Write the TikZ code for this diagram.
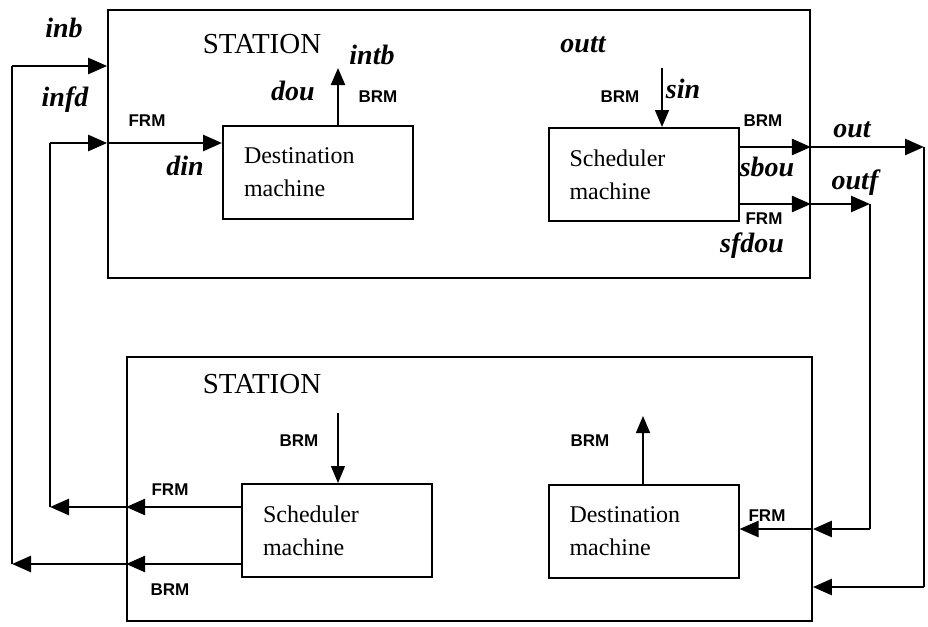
\documentclass[tikz,border=0pt]{standalone}
\usepackage{fontspec}
\setmainfont{Liberation Serif}
\setsansfont{Liberation Sans}
\usepackage{tikz}
\usetikzlibrary{arrows.meta}

\begin{document}
\begin{tikzpicture}[x=1pt, y=-1pt,
  st/.style={rectangle, draw, line width=1.8pt, inner sep=0pt},
  m/.style={rectangle, draw, line width=2pt, minimum width=190pt,
            minimum height=93pt, text width=148pt, inner xsep=21pt,
            align=left, font=\fontsize{24}{33}\selectfont},
  lb/.style={inner sep=0pt, font=\fontsize{28}{30}\selectfont\bfseries\itshape},
  sm/.style={inner sep=0pt, font=\fontsize{17}{19}\selectfont\sffamily\bfseries},
  ttl/.style={inner sep=0pt, font=\fontsize{29}{32}\selectfont},
  a/.style={-{Triangle[length=19pt, width=16pt]}, line width=2.6pt},
  ta/.style={-{Triangle[length=17pt, width=14pt]}, line width=1.6pt},
  w/.style={line width=2.6pt}]
  \useasboundingbox (0,0) rectangle (928,626);
  % the two stations
  \node[st, minimum width=702pt, minimum height=268pt] (top) at (459,144) {};
  \node[st, minimum width=685pt, minimum height=264pt] (bot) at (469.5,489) {};
  \node[ttl] (ttop) at (262,44) {STATION};
  \node[ttl] (tbot) at (262,384) {STATION};
  % machines
  \node[m] (tdm) at (318,172.5) {Destination\\machine};
  \node[m] (tsm) at (643.5,174.5) {Scheduler\\machine};
  \node[m] (bsm) at (337,530.5) {Scheduler\\machine};
  \node[m] (bdm) at (643.5,531.5) {Destination\\machine};
  % corners of the links
  \coordinate (inbL) at (12,66);
  \coordinate (inbB) at (12,564);
  \coordinate (fdT) at (50,143);
  \coordinate (fdB) at (50,507);
  \coordinate (intb) at (338,68);
  \coordinate (sin) at (662,68);
  \coordinate (outR) at (924,147);
  \coordinate (outRB) at (924,587);
  \coordinate (outfR) at (870,204);
  \coordinate (outfB) at (870,529);
  \coordinate (bdn) at (338,413);
  \coordinate (bup) at (643,416);
  % inb loop
  \draw[a] (inbL) -- (top.west |- inbL);
  \draw[a] (bsm.west |- inbB) -- (bot.west |- inbB);
  \draw[a] (bot.west |- inbB) -- (inbB);
  \draw[w] (inbB) -- (inbL);
  % infd loop
  \draw[a] (fdT) -- (top.west |- fdT);
  \draw[a] (top.west |- fdT) -- (tdm.west |- fdT);
  \draw[a] (bsm.west |- fdB) -- (bot.west |- fdB);
  \draw[a] (bot.west |- fdB) -- (fdB);
  \draw[w] (fdB) -- (fdT);
  % out loop
  \draw[a] (tsm.east |- outR) -- (top.east |- outR);
  \draw[a] (top.east |- outR) -- (outR);
  \draw[w] (outR) -- (outRB);
  \draw[a] (outRB) -- (bot.east |- outRB);
  % outf loop
  \draw[a] (tsm.east |- outfR) -- (top.east |- outfR);
  \draw[a] (top.east |- outfR) -- (outfR);
  \draw[w] (outfR) -- (outfB);
  \draw[a] (outfB) -- (bot.east |- outfB);
  \draw[a] (bot.east |- outfB) -- (bdm.east |- outfB);
  % BRM in and out
  \draw[ta, line width=2.2pt] (tdm.north -| intb) -- (intb);
  \draw[ta] (sin) -- (tsm.north -| sin);
  \draw[ta, line width=1.2pt] (bdn) -- (bsm.north -| bdn);
  \draw[ta] (bdm.north -| bup) -- (bup);
  % labels
  \node[lb] (linb) at (64,28) {inb};
  \node[lb] (linfd) at (65,100) {infd};
  \node[sm] (lf1) at (147,121) {FRM};
  \node[lb] (ldin) at (185,166) {din};
  \node[lb] (ldou) at (293,91) {dou};
  \node[lb] (lintb) at (372,55) {intb};
  \node[sm] (lb1) at (378,97) {BRM};
  \node[lb] (loutt) at (583,45) {outt};
  \node[sm] (lb2) at (620,97) {BRM};
  \node[lb] (lsin) at (683,89) {sin};
  \node[sm] (lb3) at (763,121) {BRM};
  \node[lb] (lout) at (852,130) {out};
  \node[lb] (lsbou) at (767,167) {sbou};
  \node[lb] (loutf) at (855,183) {outf};
  \node[sm] (lf2) at (764,219) {FRM};
  \node[lb] (lsfdou) at (752,246) {sfdou};
  \node[sm] (lb4) at (299,441) {BRM};
  \node[sm] (lf3) at (170,490) {FRM};
  \node[sm] (lb5) at (170,590) {BRM};
  \node[sm] (lb6) at (590,441) {BRM};
  \node[sm] (lf4) at (767,516) {FRM};
\end{tikzpicture}
\end{document}
